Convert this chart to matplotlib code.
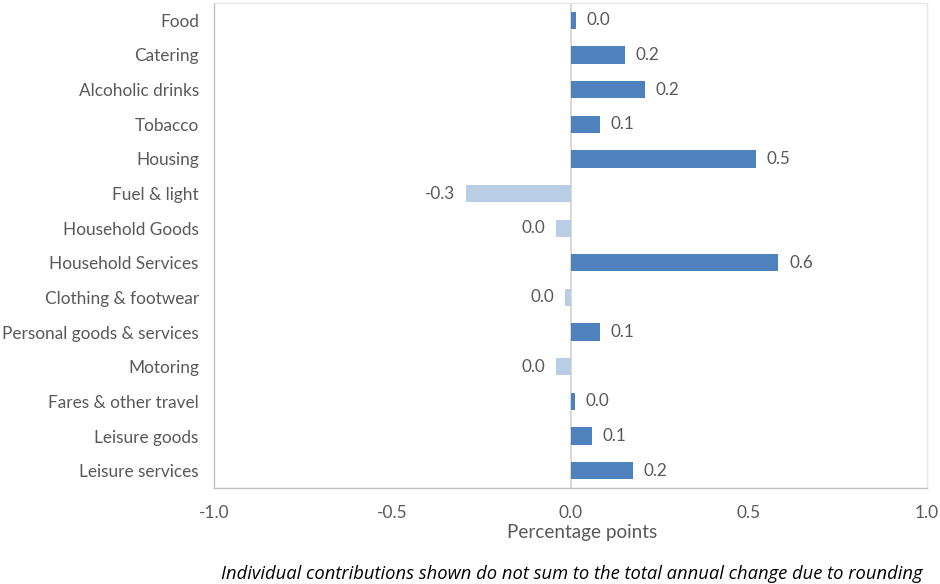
import matplotlib
matplotlib.use("Agg")
import matplotlib.pyplot as plt

categories = [
    "Food", "Catering", "Alcoholic drinks", "Tobacco", "Housing",
    "Fuel & light", "Household Goods", "Household Services",
    "Clothing & footwear", "Personal goods & services", "Motoring",
    "Fares & other travel", "Leisure goods", "Leisure services",
]
values = [0.015, 0.153, 0.209, 0.083, 0.519, -0.294, -0.041, 0.583,
          -0.015, 0.083, -0.041, 0.013, 0.061, 0.174]
xticks = [-1.0, -0.5, 0.0, 0.5, 1.0]
xlabel = "Percentage points"
footnote = ("Individual contributions shown do not sum to the total "
            "annual change due to rounding")

pos_color = "#4f81bd"
neg_color = "#b9cde5"
text_color = "#595959"

plt.rcParams["font.family"] = ["Lato", "DejaVu Sans"]

fig = plt.figure(figsize=(9.4, 5.84), dpi=100)
ax = fig.add_axes([0.2277, 0.1644, 0.7585, 0.8305])

ypos = list(range(len(categories)))
colors = [pos_color if v >= 0 else neg_color for v in values]
ax.barh(ypos, values, height=0.5, color=colors, zorder=2)

for y, v in zip(ypos, values):
    label = f"{v:.1f}"
    if label == "-0.0":
        label = "0.0"
    if v >= 0:
        ax.text(v + 0.03, y, label, va="center", ha="left",
                fontsize=12.3, color=text_color)
    else:
        ax.text(v - 0.03, y, label, va="center", ha="right",
                fontsize=12.3, color=text_color)

ax.axvline(0, color="#d9d9d9", lw=1.5, zorder=1)

ax.set_xlim(-1.0, 1.0)
ax.set_ylim(len(categories) - 0.5, -0.5)
ax.set_yticks(ypos)
ax.set_yticklabels(categories)
ax.set_xticks(xticks)
ax.set_xticklabels([f"{t:.1f}" for t in xticks])
ax.tick_params(axis="both", length=0, labelsize=12.4, colors=text_color)
ax.tick_params(axis="x", pad=12)
ax.tick_params(axis="y", pad=11)
ax.set_xlabel(xlabel, fontsize=13.6, color=text_color, labelpad=3)
ax.xaxis.set_label_coords(0.5157, -0.075)

for side in ("left", "bottom"):
    ax.spines[side].set_color("#bfbfbf")
    ax.spines[side].set_linewidth(1)
for side in ("top", "right"):
    ax.spines[side].set_color("#e6e6e6")
    ax.spines[side].set_linewidth(1)

fig.text(0.981, 0.0086, footnote, ha="right", va="baseline",
         fontsize=13.2, style="italic", color="black",
         family=["Open Sans", "DejaVu Sans"])

fig.savefig("out.png", dpi=100, facecolor="white")
